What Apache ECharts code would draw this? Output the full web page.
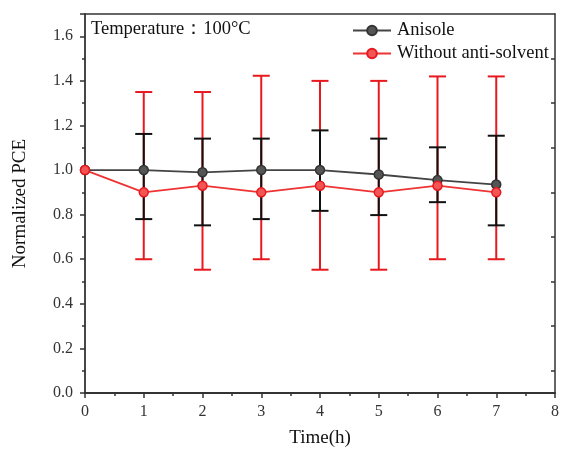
<!DOCTYPE html>
<html>
<head>
<meta charset="utf-8">
<script src="https://cdn.jsdelivr.net/npm/echarts@6/dist/echarts.min.js"></script>
<style>html,body{margin:0;padding:0;background:#fff}#c{width:562px;height:453px}</style>
</head>
<body>
<div id="c"></div>
<script>
const times = [0, 1, 2, 3, 4, 5, 6, 7];
const anisole = [1.00, 1.00, 0.99, 1.00, 1.00, 0.98, 0.955, 0.935];
const anisoleLow = [null, 0.78, 0.752, 0.78, 0.817, 0.798, 0.856, 0.752];
const anisoleHigh = [null, 1.162, 1.141, 1.141, 1.178, 1.141, 1.102, 1.154];
const without = [1.00, 0.90, 0.93, 0.90, 0.93, 0.90, 0.93, 0.90];
const withoutLow = [null, 0.60, 0.553, 0.60, 0.553, 0.553, 0.60, 0.60];
const withoutHigh = [null, 1.35, 1.35, 1.423, 1.40, 1.40, 1.42, 1.42];
const yTicks = [0.0, 0.2, 0.4, 0.6, 0.8, 1.0, 1.2, 1.4, 1.6];
const xTicks = [0, 1, 2, 3, 4, 5, 6, 7, 8];
const annotation = 'Temperature：100°C';

const FONT = 'Liberation Serif';
const AX = '#333';

function errData(low, high) {
  const out = [];
  times.forEach((t, i) => { if (low[i] != null) out.push([t, low[i], high[i]]); });
  return out;
}
function errSeries(low, high, color) {
  return {
    type: 'custom',
    silent: true,
    z: 2,
    data: errData(low, high),
    renderItem: function (params, api) {
      const x = api.value(0);
      const lo = api.coord([x, api.value(1)]);
      const hi = api.coord([x, api.value(2)]);
      const hw = 8.5;
      const st = { stroke: color, lineWidth: 2 };
      return {
        type: 'group',
        children: [
          { type: 'line', shape: { x1: lo[0], y1: lo[1], x2: hi[0], y2: hi[1] }, style: st },
          { type: 'line', shape: { x1: lo[0] - hw, y1: lo[1], x2: lo[0] + hw, y2: lo[1] }, style: st },
          { type: 'line', shape: { x1: hi[0] - hw, y1: hi[1], x2: hi[0] + hw, y2: hi[1] }, style: st }
        ]
      };
    }
  };
}

const chart = echarts.init(document.getElementById('c'), null, { renderer: 'canvas' });
chart.setOption({
  animation: false,
  backgroundColor: '#fff',
  textStyle: { fontFamily: FONT },
  grid: { left: 85, right: 5, top: 14, bottom: 58, containLabel: false },
  graphic: [{
    type: 'text', left: 91, top: 20,
    style: { text: annotation, font: '18.5px "Liberation Serif"', fill: '#111' }
  }],
  legend: {
    left: 352, top: 21, orient: 'vertical', padding: 0,
    itemWidth: 38, itemHeight: 12, itemGap: 4,
    textStyle: { fontFamily: FONT, fontSize: 18.5, color: '#111', padding: [0, 0, 0, 1] },
    data: ['Anisole', 'Without anti-solvent']
  },
  xAxis: [{
    type: 'value', min: 0, max: 8, interval: 1,
    name: 'Time(h)', nameLocation: 'middle', nameGap: 36,
    nameTextStyle: { fontFamily: FONT, fontSize: 19, color: '#111' },
    axisLine: { show: true, onZero: false, lineStyle: { color: AX, width: 1.8 } },
    axisTick: { show: true, inside: false, length: 5, lineStyle: { color: AX, width: 1.5 } },
    minorTick: { show: true, splitNumber: 2, length: 3, lineStyle: { color: AX, width: 1.5 } },
    axisLabel: { fontFamily: FONT, fontSize: 16, color: '#333', margin: 11,
      formatter: v => xTicks.includes(v) ? String(v) : '' },
    splitLine: { show: false }
  }, {
    type: 'value', min: 0, max: 8, position: 'top',
    axisLine: { show: true, onZero: false, lineStyle: { color: AX, width: 1.5 } },
    axisTick: { show: false }, axisLabel: { show: false }, splitLine: { show: false }
  }],
  yAxis: [{
    type: 'value', min: 0, max: 1.7, interval: 0.2,
    name: 'Normalized PCE', nameLocation: 'middle', nameGap: 55, nameRotate: 90,
    nameTextStyle: { fontFamily: FONT, fontSize: 19, color: '#111' },
    axisLine: { show: true, onZero: false, lineStyle: { color: AX, width: 1.8 } },
    axisTick: { show: true, inside: false, length: 5, lineStyle: { color: AX, width: 1.5 } },
    minorTick: { show: true, splitNumber: 2, length: 3, lineStyle: { color: AX, width: 1.5 } },
    axisLabel: { fontFamily: FONT, fontSize: 16, color: '#333', margin: 12,
      formatter: v => {
        const t = yTicks.find(y => Math.abs(y - v) < 1e-6);
        return t === undefined ? '' : t.toFixed(1);
      } },
    splitLine: { show: false }
  }, {
    type: 'value', min: 0, max: 1.7, interval: 0.2, position: 'right',
    axisLine: { show: true, onZero: false, lineStyle: { color: AX, width: 1.5 } },
    axisTick: { show: false, inside: true },
    minorTick: { show: true, splitNumber: 2, length: 4, lineStyle: { color: AX, width: 1.5 } },
    axisLabel: { show: false }, splitLine: { show: false }, minorSplitLine: { show: false }
  }],
  series: [
    errSeries(withoutLow, withoutHigh, '#e8191e'),
    errSeries(anisoleLow, anisoleHigh, '#111'),
    {
      name: 'Anisole', type: 'line', z: 3,
      data: times.map((t, i) => [t, anisole[i]]),
      symbol: 'circle', symbolSize: 9,
      lineStyle: { color: '#444', width: 1.8 },
      itemStyle: { color: '#555', borderColor: '#333', borderWidth: 1.5 }
    },
    {
      name: 'Without anti-solvent', type: 'line', z: 4,
      data: times.map((t, i) => [t, without[i]]),
      symbol: 'circle', symbolSize: 9,
      lineStyle: { color: '#ee3333', width: 1.8 },
      itemStyle: { color: '#f25555', borderColor: '#e8191e', borderWidth: 1.5 }
    }
  ]
});
</script>
</body>
</html>
